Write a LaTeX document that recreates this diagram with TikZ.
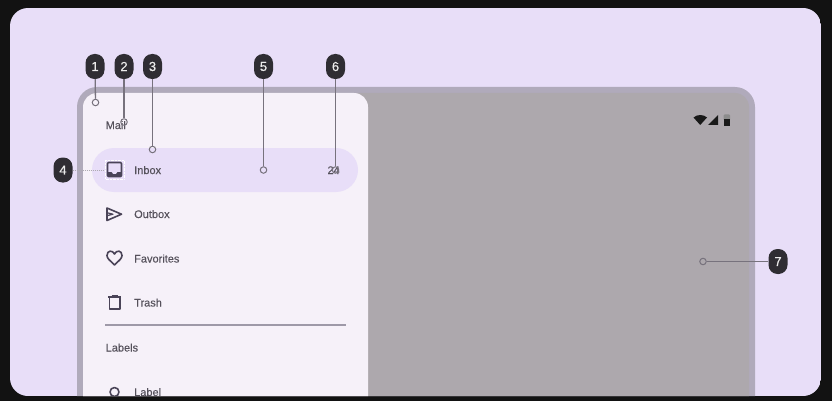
\documentclass[tikz,border=0pt]{standalone}
\usepackage{fontspec}
\setmainfont{Liberation Sans}
\newfontfamily\menufont{Liberation Sans}[FakeBold=0.2]
\newfontfamily\badgefont{Liberation Sans}[FakeBold=0.5]
\definecolor{pagebg}{HTML}{121212}
\definecolor{panelbg}{HTML}{E8DEF8}
\definecolor{framebg}{HTML}{B0AABB}
\definecolor{scrimbg}{HTML}{ADA8AD}
\definecolor{drawerbg}{HTML}{F6F1F9}
\definecolor{inktext}{HTML}{55515B}
\definecolor{iconink}{HTML}{4A4458}
\definecolor{badgebg}{HTML}{2F2D33}
\definecolor{leaderln}{HTML}{77727D}
\tikzset{%
  % Specifications for style of nodes:
       badge/.style = {rectangle, rounded corners=9pt, fill=badgebg, text=white!92!black,
                       minimum width=19pt, minimum height=25pt, inner sep=0pt,
                       font=\badgefont\fontsize{13}{13}\selectfont},
         dot/.style = {circle, draw=leaderln, line width=1pt, minimum size=6.5pt,
                       inner sep=0pt},
      leader/.style = {draw=leaderln, line width=1.3pt},
    menutext/.style = {anchor=west, inner sep=0pt, text=inktext, text height=8pt,
                       text depth=0pt, font=\menufont\fontsize{11}{11}\selectfont},
    menuicon/.style = {draw=iconink, line width=1.6pt, line join=round},
}
\begin{document}
\begin{tikzpicture}[x=1pt, y=-1pt]
  \useasboundingbox (0,0) rectangle (832,401);
  \fill[pagebg] (0,0) rectangle (832,401);
  % Panel, device and drawer are clipped by the panel
  \begin{scope}
    \clip[rounded corners=18pt] (10,8) rectangle (821,396);
    \fill[panelbg] (10,8) rectangle (821,396);
    \fill[framebg, rounded corners=20pt] (77,87) rectangle (755,440);
    \fill[scrimbg, rounded corners=14pt] (83,93) rectangle (749,440);
    \fill[drawerbg] [rounded corners=14pt] (83,93) -- (368,93) -- (368,440) -- (83,440) -- cycle;
    \fill[panelbg, rounded corners=22pt] (92,148) rectangle (358,192);
    % Specification of menu texts
    \node (mail)      [menutext] at (105.5,125)   {Mail};
    \node (inbox)     [menutext] at (134,170)   {Inbox};
    \node (outbox)    [menutext] at (134,214)   {Outbox};
    \node (favorites) [menutext] at (134,258.5) {Favorites};
    \node (trash)     [menutext] at (134,302.5) {Trash};
    \node (labels)    [menutext] at (105.5,347.5) {Labels};
    \node (label)     [menutext] at (134,392)   {Label};
    \node (count)     [menutext, anchor=east] at (340,170) {24};
    \draw[draw=framebg!90!black, line width=1.2pt] (105,325) -- (346,325);
    % Menu icons
    \draw[white, line width=0.4pt, densely dotted] (105,160) rectangle (124,179);
    \draw[menuicon, rounded corners=1pt] (107.5,162.5) rectangle (121.5,176.5);
    \fill[iconink] (107.5,172) -- (111.5,172) -- (113,174) -- (116,174) -- (117.5,172) -- (121.5,172) -- (121.5,176.5) -- (107.5,176.5) -- cycle;
    \draw[menuicon] (107,208) -- (121.5,214.2) -- (107,220.5) -- cycle;
    \draw[menuicon, line width=1.2pt] (107,212.7) -- (113,214.2) -- (107,215.7);
    \draw[menuicon] (114.5,265) .. controls (110,260.5) and (107,258.5) .. (107,255.5)
      .. controls (107,250) and (112.8,250) .. (114.5,254)
      .. controls (116.2,250) and (122,250) .. (122,255.5)
      .. controls (122,258.5) and (119,260.5) .. (114.5,265) -- cycle;
    \draw[menuicon] (109.3,297.5) -- (109.3,308.7) -- (119.7,308.7) -- (119.7,297.5);
    \draw[menuicon, line width=1.3pt] (108,297) -- (121,297);
    \draw[menuicon, line width=1.2pt] (111.5,295.5) -- (117.5,295.5);
    \draw[menuicon] (114.5,392) circle (4.5);
  \end{scope}
  % Status bar icons
  \fill[black!90] (693.5,117.5) .. controls (697,114.2) and (703.5,114.2) .. (707,117.5) -- (700.2,125) -- cycle;
  \fill[black!90] (718,115) -- (718,125) -- (708,125) -- cycle;
  \fill[black!45, rounded corners=1pt] (723.5,114.5) rectangle (730,120.5);
  \fill[black!90] (723.5,119.5) rectangle (730,126);
  % Specification of badges and their dots
  \node (badgeA) [badge] at (95,66.5)    {1};
  \node (badgeB) [badge] at (124,66.5)   {2};
  \node (badgeC) [badge] at (152.5,66.5) {3};
  \node (badgeD) [badge] at (63,170)     {4};
  \node (badgeE) [badge] at (263.5,66.5) {5};
  \node (badgeF) [badge] at (335.5,66.5) {6};
  \node (badgeG) [badge] at (778,261.5)  {7};
  \node (dotA) [dot] at (95.5,102.5) {};
  \node (dotB) [dot] at (124,122)    {};
  \node (dotC) [dot] at (152.5,149.5) {};
  \coordinate (dotD) at (104,170);
  \node (dotE) [dot] at (263.5,170)  {};
  \node (dotF) [dot] at (335.5,170)  {};
  \node (dotG) [dot] at (703,261.5)  {};
  % Lines between badges and dots
  \draw[leader] (badgeA) -- (dotA);
  \draw[leader] (badgeB) -- (dotB);
  \draw[leader] (badgeC) -- (dotC);
  \draw[draw=leaderln!60, line width=1pt, densely dotted] (badgeD) -- (dotD);
  \draw[leader] (badgeE) -- (dotE);
  \draw[leader] (badgeF) -- (dotF);
  \draw[leader] (badgeG) -- (dotG);
\end{tikzpicture}
\end{document}
